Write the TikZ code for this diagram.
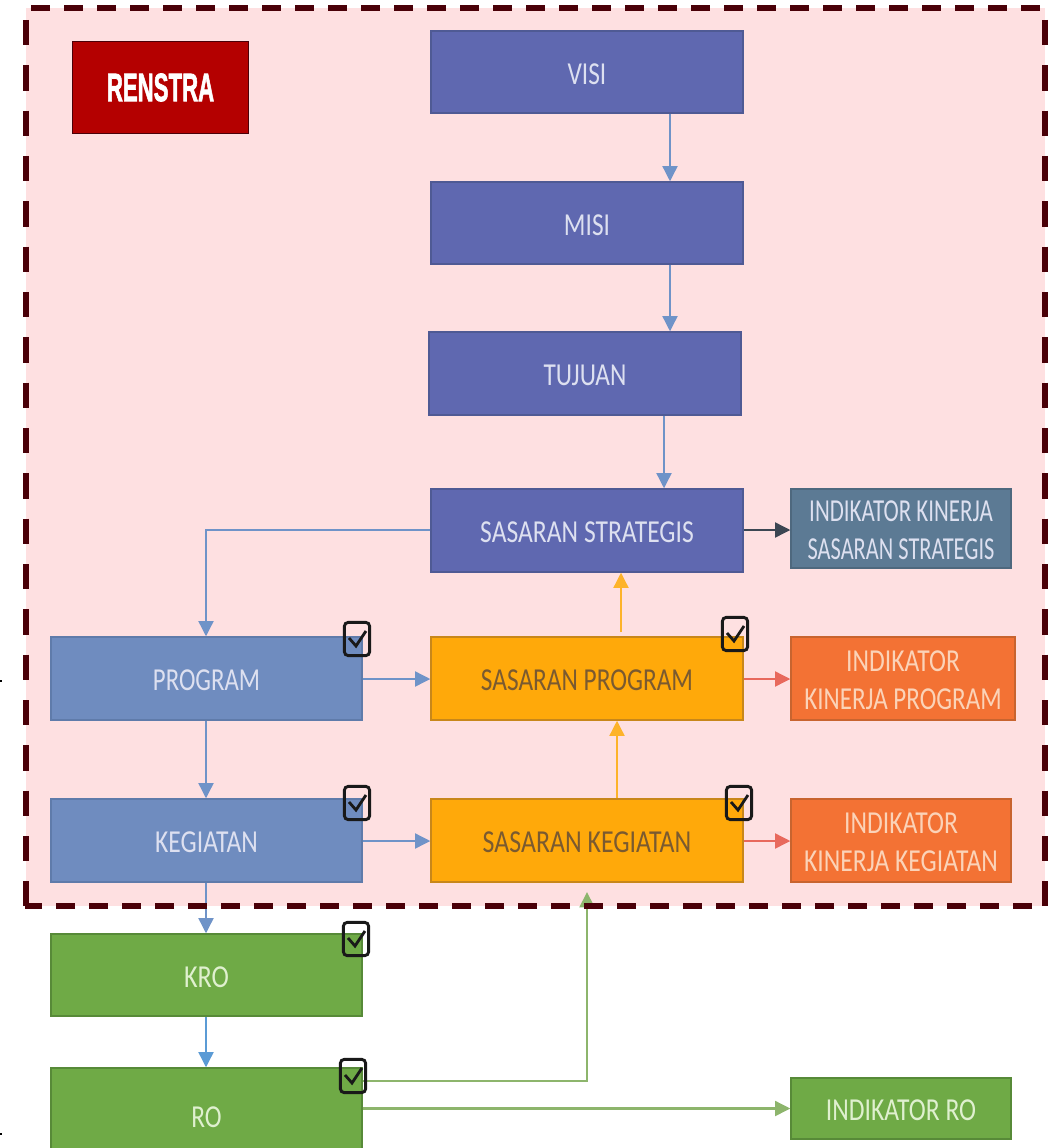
\documentclass[tikz,border=0pt]{standalone}
\usepackage{fontspec}
\setmainfont{Carlito}
\usetikzlibrary{arrows.meta,calc}
\definecolor{regionfill}{HTML}{FEE0E1}
\definecolor{regionline}{HTML}{4A0008}
\definecolor{purpbox}{HTML}{5F68B0}
\definecolor{purpline}{HTML}{4F5A94}
\definecolor{bluebox}{HTML}{6F8CBF}
\definecolor{blueline}{HTML}{5F7BAA}
\definecolor{orangebox}{HTML}{FFA90A}
\definecolor{orangeline}{HTML}{C8871A}
\definecolor{orangetext}{HTML}{7A5A30}
\definecolor{redbox}{HTML}{F37234}
\definecolor{redline}{HTML}{C8642F}
\definecolor{redtext}{HTML}{FBD3B8}
\definecolor{greybox}{HTML}{5C7A94}
\definecolor{greenbox}{HTML}{6FAA46}
\definecolor{greenline}{HTML}{578A38}
\definecolor{greentext}{HTML}{DFF0CF}
\definecolor{renstrared}{HTML}{B40000}
\definecolor{arrowblue}{HTML}{6F93C8}
\definecolor{arrowsky}{HTML}{5B9BD5}
\definecolor{arrowred}{HTML}{E8695C}
\definecolor{arrowgreen}{HTML}{8DB56C}
\definecolor{arrowdark}{HTML}{3C4652}
\definecolor{arroworange}{HTML}{FDB32A}
\definecolor{textlight}{HTML}{DDE0F0}
\tikzset{
  x=0.75pt,y=-0.75pt,
  boxbase/.style={rectangle,inner sep=0pt,align=center,line width=0.9pt,font=\fontsize{20}{28.5}\selectfont},
  purple box/.style={boxbase,fill=purpbox,draw=purpline,text=textlight},
  blue box/.style={boxbase,fill=bluebox,draw=blueline,text=textlight},
  orange box/.style={boxbase,fill=orangebox,draw=orangeline,text=orangetext},
  red box/.style={boxbase,fill=redbox,draw=redline,text=redtext},
  grey box/.style={boxbase,fill=greybox,draw=greybox!85!black,text=textlight},
  green box/.style={boxbase,fill=greenbox,draw=greenline,text=greentext},
  conn/.style={line width=2.2pt,-{Triangle[length=11.5pt,width=11pt]}},
  check box/.style={rectangle,rounded corners=3pt,draw=black!90,line width=2.2pt,minimum width=19pt,minimum height=25pt,inner sep=0pt},
  dash h/.style={regionline,line width=4.6pt,dash pattern=on 14.2pt off 10.55pt},
  dash v/.style={regionline,line width=3.8pt,dash pattern=on 19pt off 15pt},
}
\newcommand{\tx}[2]{\raisebox{-1.6pt}[\height][\depth]{\scalebox{#1}[1.2]{#2}}}
\newcommand{\bx}[7]{\node[#1,minimum width=#5*0.75pt-#4*0.75pt,minimum height=#7*0.75pt-#6*0.75pt] (#2) at ({(#4+#5)/2},{(#6+#7)/2}) {#3};}
\newcommand{\ck}[3]{\node[check box] (#1) at (#2,#3) {};
  \draw[black!90,line width=2.1pt] ($(#1)+(-8,-1)$) -- ($(#1)+(-1,7)$) -- ($(#1)+(9,-8)$);}
\begin{document}
\begin{tikzpicture}
\useasboundingbox (0,0) rectangle (1051,1148);
\fill[white] (0,0) rectangle (1051,1148);
\begin{scope}
\clip (0,0) rectangle (1051,1148);
\fill[regionfill] (26,8) rectangle (1045,906);
\fill[black] (0,680) rectangle (2,682);
\fill[black] (0,1133) rectangle (2,1135);

% connector anchors
\coordinate (xa) at (670,0);
\coordinate (xb) at (664,0);
\coordinate (xc) at (206,0);
\coordinate (xd) at (621,0);
\coordinate (xe) at (617,0);
\coordinate (xf) at (587,0);
\coordinate (ya) at (0,1081);
\coordinate (yb) at (0,1108.5);
\coordinate (yc) at (0,530);
\coordinate (yd) at (0,679);
\coordinate (ye) at (0,841);

\bx{purple box}{visi}{\tx{.95}{VISI}}{431}{743}{31}{113}
\bx{purple box}{misi}{\tx{.95}{MISI}}{431}{743}{182}{264}
\bx{purple box}{tujuan}{\tx{.95}{TUJUAN}}{429}{741}{332}{415}
\bx{purple box}{ss}{\tx{.96}{SASARAN STRATEGIS}}{431}{743}{489}{572}
\bx{grey box}{ikss}{\tx{.86}{INDIKATOR KINERJA}\\\tx{.84}{SASARAN STRATEGIS}}{791}{1011}{489}{568}
\bx{blue box}{prog}{\tx{.93}{PROGRAM}}{51}{362}{637}{720}
\bx{orange box}{sp}{\tx{.95}{SASARAN PROGRAM}}{431}{743}{637}{720}
\bx{red box}{ikp}{\tx{.96}{INDIKATOR}\\\tx{.94}{KINERJA PROGRAM}}{791}{1015}{637}{720}
\bx{blue box}{keg}{\tx{.96}{KEGIATAN}}{51}{362}{799}{882}
\bx{orange box}{sk}{\tx{.97}{SASARAN KEGIATAN}}{431}{743}{799}{882}
\bx{red box}{ikk}{\tx{.96}{INDIKATOR}\\\tx{.96}{KINERJA KEGIATAN}}{791}{1011}{799}{882}
\bx{green box}{kro}{\tx{.98}{KRO}}{51}{362}{934}{1016}
\node[green box,minimum width=311*0.75pt,minimum height=100*0.75pt] (ro) at (206.5,1118) {\raisebox{5pt}{\tx{.95}{RO}}};
\bx{green box}{indro}{\tx{.96}{INDIKATOR RO}}{791}{1011}{1078}{1139}
\node[rectangle,fill=renstrared,draw=regionline,line width=0.9pt,minimum width=132pt,minimum height=69pt,inner sep=0pt,text=white] (renstra) at (160.5,87.5) {\scalebox{0.64}[1.14]{\fontspec[FakeBold=2.2]{Liberation Sans}\bfseries\fontsize{26}{30}\selectfont RENSTRA}};

% connectors
\draw[conn,arrowblue] (xa |- visi.south) -- (xa |- misi.north);
\draw[conn,arrowblue] (xa |- misi.south) -- (xa |- tujuan.north);
\draw[conn,arrowblue] (xb |- tujuan.south) -- (xb |- ss.north);
\draw[conn,arrowblue] (ss.west |- yc) -| (prog.north -| xc);
\draw[conn,arrowdark] (ss.east |- yc) -- (ikss.west |- yc);
\draw[conn,arrowblue] (prog.south -| xc) -- (keg.north -| xc);
\draw[conn,arrowblue] (prog.east |- yd) -- (sp.west |- yd);
\draw[conn,arrowred] (sp.east |- yd) -- (ikp.west |- yd);
\draw[conn,arrowblue] (keg.east |- ye) -- (sk.west |- ye);
\draw[conn,arrowred] (sk.east |- ye) -- (ikk.west |- ye);
\coordinate (spgap) at (0,632);
\draw[conn,arroworange] (xd |- spgap) -- (xd |- ss.south);
\draw[conn,arroworange] (xe |- sk.north) -- (xe |- sp.south);
\draw[conn,arrowblue] (keg.south -| xc) -- (kro.north -| xc);
\draw[conn,arrowsky] (kro.south -| xc) -- (ro.north -| xc);
\coordinate (gtip) at (0,892);
\draw[conn,arrowgreen] (ro.east |- ya) -| (xf |- gtip);
\draw[conn,arrowgreen] (ro.east |- yb) -- (indro.west |- yb);

% dashed region border, over the connectors
\draw[dash h] (31,8) -- (1040,8);
\draw[dash h] (1032,906) -- (25,906);
\draw[dash v] (26,20) -- (26,906);
\draw[dash v] (1045,20) -- (1045,906);

% check marks
\ck{c1}{357}{639}
\ck{c2}{735}{634}
\ck{c3}{357}{803}
\ck{c4}{739}{803}
\ck{c5}{356}{939}
\ck{c6}{353}{1076}
\end{scope}
\end{tikzpicture}
\end{document}
